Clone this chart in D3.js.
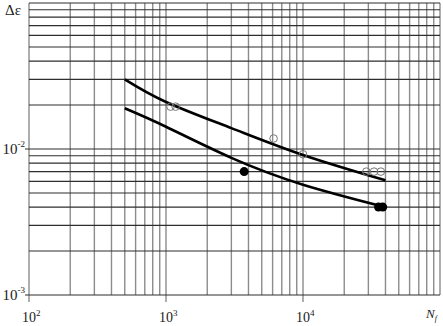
<!DOCTYPE html>
<html>
<head>
<meta charset="utf-8">
<script src="https://cdn.jsdelivr.net/npm/d3@7"></script>
<style>
  html, body { margin: 0; padding: 0; background: #fff; }
  svg { display: block; font-family: "Liberation Serif", "Times New Roman", serif; }
</style>
</head>
<body>
<svg width="443" height="326"></svg>
<script>
// fitted curves (cycles vs strain range)
var curveN = [500, 1000, 3000, 10000, 40000],
	upperCurve = [0.030, 0.021, 0.0139, 0.0091, 0.0061],
	lowerCurve = [0.019, 0.0142, 0.0087, 0.0057, 0.0040];

// test points
var openN = [1080, 1175, 6100, 10000, 29000, 33000, 37000],
	openDe = [0.0195, 0.0195, 0.0118, 0.0092, 0.0070, 0.0070, 0.0070];
var filledN = [3720, 35600, 38200],
	filledDe = [0.0070, 0.0040, 0.0040];

var xMajor = [100, 1000, 10000],
	xExp = ['2', '3', '4'],
	yMajor = [0.01, 0.001],
	yExp = ['-2', '-3'];

var svg = d3.select('svg');

var x = d3.scaleLog().domain([100, 100000]).range([29, 440]),
	y = d3.scaleLog().domain([0.001, 0.1]).range([295, 3]);

// grid
svg.append('g').selectAll('line')
	.data(x.ticks())
	.enter().append('line')
	.attr('x1', function (d) { return x(d); })
	.attr('x2', function (d) { return x(d); })
	.attr('y1', y(0.1))
	.attr('y2', function (d) { return xMajor.indexOf(d) >= 0 ? y(0.001) + 7 : y(0.001); })
	.attr('stroke', '#8c8c8c')
	.attr('stroke-width', 1.4);

svg.append('g').selectAll('line')
	.data(y.ticks())
	.enter().append('line')
	.attr('y1', function (d) { return y(d); })
	.attr('y2', function (d) { return y(d); })
	.attr('x1', function (d) { return yMajor.indexOf(d) >= 0 ? x(100) - 4 : x(100); })
	.attr('x2', x(100000))
	.attr('stroke', '#2e2e2e')
	.attr('stroke-width', 1.1);

// curves
var line = d3.line()
	.x(function (d) { return x(d[0]); })
	.y(function (d) { return y(d[1]); })
	.curve(d3.curveNatural);

[upperCurve, lowerCurve].forEach(function (vals) {
	svg.append('path')
		.datum(d3.zip(curveN, vals))
		.attr('d', line)
		.attr('fill', 'none')
		.attr('stroke', '#000')
		.attr('stroke-width', 2.6);
});

// points
svg.append('g').selectAll('circle')
	.data(d3.zip(openN, openDe))
	.enter().append('circle')
	.attr('cx', function (d) { return x(d[0]); })
	.attr('cy', function (d) { return y(d[1]); })
	.attr('r', 3.8)
	.attr('fill', 'none')
	.attr('stroke', '#777')
	.attr('stroke-width', 1);

svg.append('g').selectAll('circle')
	.data(d3.zip(filledN, filledDe))
	.enter().append('circle')
	.attr('cx', function (d) { return x(d[0]); })
	.attr('cy', function (d) { return y(d[1]); })
	.attr('r', 4.5)
	.attr('fill', '#000');

// x labels
var xl = svg.append('g').selectAll('text')
	.data(xMajor)
	.enter().append('text')
	.attr('x', function (d) { return x(d) - 7; })
	.attr('y', 322)
	.attr('font-size', 14)
	.attr('fill', '#222');
xl.append('tspan').text('10');
xl.append('tspan')
	.attr('font-size', 9)
	.attr('dy', -6)
	.text(function (d, i) { return xExp[i]; });

// y labels
var yl = svg.append('g').selectAll('text')
	.data(yMajor)
	.enter().append('text')
	.attr('x', 25)
	.attr('y', function (d) { return y(d) + 5; })
	.attr('text-anchor', 'end')
	.attr('font-size', 15)
	.attr('fill', '#222');
yl.append('tspan').text('10');
yl.append('tspan')
	.attr('font-size', 9)
	.attr('dy', -7)
	.text(function (d, i) { return yExp[i]; });

svg.append('text')
	.attr('x', 5).attr('y', 15)
	.attr('font-size', 15)
	.attr('fill', '#222')
	.text('Δε');

var nf = svg.append('text')
	.attr('x', 426).attr('y', 318)
	.attr('font-size', 13)
	.attr('font-style', 'italic')
	.attr('fill', '#222');
nf.append('tspan').text('N');
nf.append('tspan').attr('font-size', 8).attr('dy', 3).text('f');
</script>
</body>
</html>
